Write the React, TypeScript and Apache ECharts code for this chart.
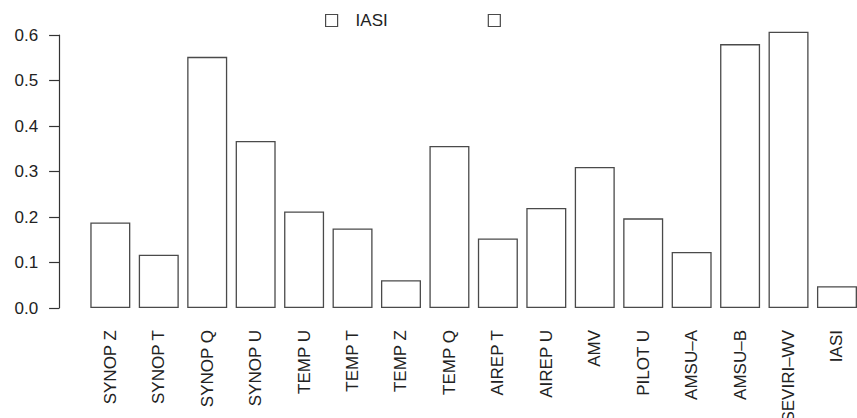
import React, { useEffect, useRef } from "react";
import * as echarts from "echarts";

// Observation types along the x axis
const categories = [
  "SYNOP Z", "SYNOP T", "SYNOP Q", "SYNOP U",
  "TEMP U", "TEMP T", "TEMP Z", "TEMP Q",
  "AIREP T", "AIREP U", "AMV", "PILOT U",
  "AMSU–A", "AMSU–B", "SEVIRI–WV", "IASI",
];

// Impact values per observation type
const values = [
  0.188, 0.117, 0.552, 0.367,
  0.212, 0.175, 0.061, 0.356,
  0.153, 0.220, 0.310, 0.197,
  0.123, 0.580, 0.607, 0.048,
];

// Legend entries (second entry has a blank label)
const legendNames = ["IASI", " "];

const yTicks = { min: 0, max: 0.6, interval: 0.1 };

const FONT = "Liberation Sans, Arial, Helvetica, sans-serif";
const INK = "#222";
const STROKE = "#4a4a4a";

export default function App() {
  const ref = useRef<HTMLDivElement>(null);

  useEffect(() => {
    document.body.style.margin = "0";
    if (!ref.current) return;
    const chart = echarts.init(ref.current, null, { renderer: "svg" });
    chart.setOption({
      animation: false,
      backgroundColor: "#fff",
      textStyle: { fontFamily: FONT },
      legend: {
        data: legendNames,
        left: 320,
        top: 7,
        icon: "rect",
        itemWidth: 12,
        itemHeight: 12,
        itemGap: 100,
        itemStyle: { color: "#fff", borderColor: STROKE, borderWidth: 1.2 },
        textStyle: {
          fontFamily: FONT,
          fontSize: 17,
          color: INK,
          padding: [0, 0, 0, 13],
        },
        selectedMode: false,
      },
      grid: {
        left: 86.1,
        right: -4.2,
        top: 35,
        bottom: 110,
        containLabel: false,
        outerBoundsMode: "none",
      },
      xAxis: {
        type: "category",
        data: categories,
        axisLine: { show: false },
        axisTick: { show: false },
        axisLabel: {
          rotate: 90,
          interval: 0,
          margin: 22,
          fontFamily: FONT,
          fontSize: 17,
          color: INK,
        },
      },
      yAxis: {
        type: "value",
        min: yTicks.min,
        max: yTicks.max,
        interval: yTicks.interval,
        offset: 27,
        splitLine: { show: false },
        axisLine: { show: true, lineStyle: { color: "#333", width: 1.2 } },
        axisTick: { show: true, length: 10, lineStyle: { color: "#333", width: 1.2 } },
        axisLabel: {
          margin: 21,
          fontFamily: FONT,
          fontSize: 17,
          color: INK,
          formatter: (v: number) => v.toFixed(1),
        },
      },
      series: [
        {
          name: legendNames[0],
          type: "bar",
          data: values,
          barWidth: 40,
          barGap: "-100%",
          clip: false,
          itemStyle: { color: "#fff", borderColor: STROKE, borderWidth: 1.3 },
        },
        {
          name: legendNames[1],
          type: "bar",
          data: [],
          barWidth: 40,
          clip: false,
          itemStyle: { color: "#fff", borderColor: STROKE, borderWidth: 1.3 },
        },
      ],
    });
    return () => chart.dispose();
  }, []);

  return <div ref={ref} style={{ width: 857, height: 418 }} />;
}
